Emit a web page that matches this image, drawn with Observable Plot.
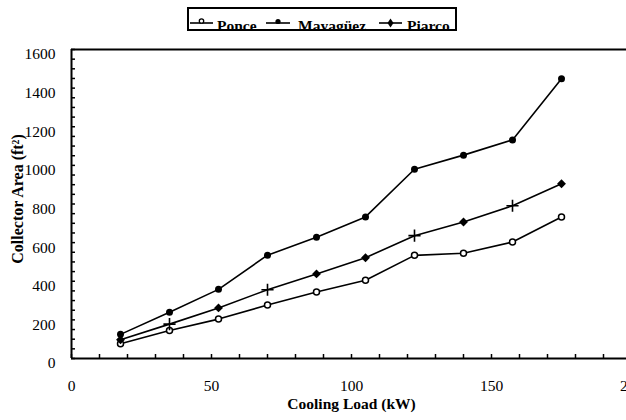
<!DOCTYPE html>
<html><head><meta charset="utf-8">
<script src="https://cdn.jsdelivr.net/npm/d3@7"></script>
<script src="https://cdn.jsdelivr.net/npm/@observablehq/plot@0.6"></script>
<style>
body{margin:0;background:#fff;font-family:"Liberation Serif","Times New Roman",serif;}
#wrap{width:626px;height:420px;overflow:hidden;}
#legend{display:block;}
</style></head><body>
<div id="wrap"><svg id="legend" width="626" height="40"></svg><div id="chart"></div></div>
<script>
const loads = [17.5, 35, 52.5, 70, 87.5, 105, 122.5, 140, 157.5, 175];
const ponce = [76, 145, 204, 277, 344, 405, 534, 545, 603, 733];
const mayaguez = [125, 240, 358, 535, 628, 733, 980, 1053, 1132, 1448];
const piarco = [97, 178, 262, 356, 438, 522, 636, 707, 791, 905];
const seriesNames = ["Ponce", "Mayagüez", "Piarco"];
const xTicks = [0, 50, 100, 150, 200];
const yTicks = [0, 200, 400, 600, 800, 1000, 1200, 1400, 1600];
const xTitle = "Cooling Load (kW)";
const yTitle = "Collector Area (ft²)";

const seriesValues = [ponce, mayaguez, piarco];
const rows = [];
seriesNames.forEach((s, k) => loads.forEach((l, i) => rows.push({series: s, load: l, area: seriesValues[k][i], i})));
const bySeries = s => rows.filter(d => d.series === s);
const FONT = "'Liberation Serif', 'Times New Roman', serif";

// legend
const ns = "http://www.w3.org/2000/svg";
const leg = document.getElementById("legend");
function el(tag, attrs, parent) { const e = document.createElementNS(ns, tag); for (const k in attrs) e.setAttribute(k, attrs[k]); (parent || leg).appendChild(e); return e; }
const defs = el("defs", {});
const cp = el("clipPath", {id: "lc"}, defs);
el("rect", {x: 188, y: 8, width: 268, height: 23}, cp);
const g = el("g", {"clip-path": "url(#lc)"});
const items = [
  {x0: 190, x1: 213, tx: 217, kind: "open"},
  {x0: 266, x1: 290, tx: 298, kind: "filled"},
  {x0: 379, x1: 402, tx: 407, kind: "diamond"}
];
items.forEach((it, k) => {
  el("line", {x1: it.x0, x2: it.x1, y1: 23, y2: 23, stroke: "#000", "stroke-width": 1.6}, g);
  const cx = (it.x0 + it.x1) / 2;
  if (it.kind === "open") el("circle", {cx, cy: 21, r: 2.2, fill: "#fff", stroke: "#000", "stroke-width": 1.3}, g);
  else if (it.kind === "filled") el("circle", {cx, cy: 21.5, r: 2.6, fill: "#000"}, g);
  else el("path", {d: `M${cx},18.5L${cx+3},23L${cx},27.5L${cx-3},23Z`, fill: "#000"}, g);
  const t = el("text", {x: it.tx, y: 30.5, "font-family": FONT, "font-size": 15.5, "font-weight": "bold"}, g);
  t.textContent = seriesNames[k];
});
el("rect", {x: 188, y: 8, width: 268, height: 22, fill: "none", stroke: "#000", "stroke-width": 2});

const plot = Plot.plot({
  width: 626, height: 380,
  marginLeft: 71, marginRight: -5, marginTop: 9, marginBottom: 62,
  x: {domain: [0, 200], label: null},
  y: {domain: [0, 1600], label: null},
  style: {fontFamily: FONT, fontSize: "15px", color: "#000", background: "#fff", overflow: "hidden"},
  marks: [
    Plot.axisX(d3.range(0, 201, 10), {tickSize: -4, tickFormat: () => "", strokeWidth: 1.5, label: null}),
    Plot.axisX(xTicks, {tickSize: 0, tickPadding: 21, label: null, fontSize: 15.5, tickFormat: d => String(d)}),
    Plot.axisY(d3.range(0, 1601, 50), {tickSize: -4, tickFormat: () => "", strokeWidth: 1.5, label: null}),
    Plot.axisY(yTicks, {tickSize: 0, tickPadding: 16, dy: 5, label: null, fontSize: 15.5, tickFormat: d => String(d)}),
    Plot.ruleY([0, 1600], {strokeWidth: 2}),
    Plot.ruleX([0], {strokeWidth: 2}),
    Plot.line(rows, {x: "load", y: "area", z: "series", stroke: "#000", strokeWidth: 1.6}),
    Plot.dot(bySeries("Ponce"), {x: "load", y: "area", r: 3, stroke: "#000", fill: "#fff", strokeWidth: 1.5}),
    Plot.dot(bySeries("Mayagüez"), {x: "load", y: "area", r: 3.5, fill: "#000"}),
    Plot.dot(bySeries("Piarco").filter(d => ![1, 3, 6, 8].includes(d.i)), {x: "load", y: "area", r: 4, symbol: "diamond2", fill: "#000"}),
    Plot.dot(bySeries("Piarco").filter(d => [1, 3, 6, 8].includes(d.i)), {x: "load", y: "area", r: 4, symbol: "plus", stroke: "#000", strokeWidth: 1.6}),
    Plot.text([yTitle], {frameAnchor: "left", textAnchor: "middle", lineAnchor: "middle", rotate: -90, dx: -54, dy: -5, fontWeight: "bold", fontSize: 16}),
    Plot.text([xTitle], {frameAnchor: "bottom", textAnchor: "middle", lineAnchor: "middle", dy: 46, fontWeight: "bold", fontSize: 15.5})
  ]
});
document.getElementById("chart").appendChild(plot);
</script>
</body></html>
